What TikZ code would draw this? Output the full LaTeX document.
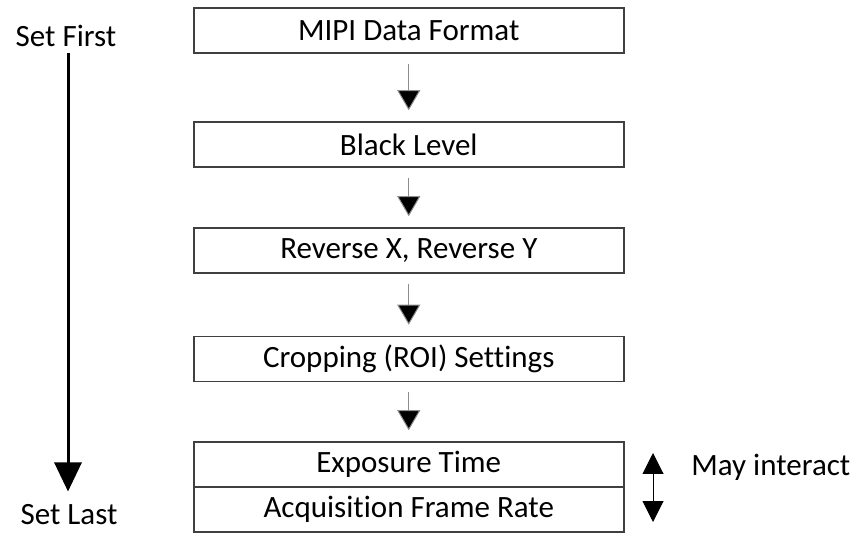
\documentclass[tikz,border=0pt]{standalone}
\usepackage{fontspec}
\setmainfont[Ligatures=NoCommon]{Carlito}
\usetikzlibrary{arrows.meta}

\tikzset{
    stepbox/.style={draw=black!75, line width=0.75pt, minimum width=215pt, minimum height=22.5pt, inner sep=0pt},
    flow/.style={draw=black!45, line width=0.5pt, -{Triangle[length=10pt,width=11.5pt,fill=black]}, shorten <=5pt, shorten >=5.5pt},
    lbl/.style={inner sep=0pt}
}

\begin{document}
\begin{tikzpicture}[x=0.5pt, y=-0.5pt, font=\fontsize{15.5}{18}\selectfont]
    \useasboundingbox (0,0) rectangle (861,533);

    % order of the settings
    \node[stepbox] (mipi)  at (408.75,30.5)  {MIPI Data Format};
    \node[stepbox] (black) at (408.75,144.5) {Black Level};
    \node[stepbox] (rev)   at (408.75,250.5) {Reverse X, Reverse Y};
    \node[stepbox] (crop)  at (408.75,359)   {Cropping (ROI) Settings};
    \node[stepbox] (expo)  at (408.75,464.5) {Exposure Time};
    \node[stepbox] (rate)  at (408.75,509.5) {Acquisition Frame Rate};

    \draw[flow] (mipi)  -- (black);
    \draw[flow] (black) -- (rev);
    \draw[flow] (rev)   -- (crop);
    \draw[flow] (crop)  -- (expo);

    % left side
    \node[lbl, anchor=base] (first) at (66,47)  {Set First};
    \node[lbl, anchor=base] (last)  at (69,524) {Set Last};
    \draw[line width=1.5pt, -{Triangle[length=14.5pt,width=13.5pt]}, shorten <=2.5pt, shorten >=6pt]
        (first.south -| 68,0) -- (last.north -| 68,0);

    % right side
    \coordinate (itop) at (653,453);
    \coordinate (ibot) at (653,522);
    \draw[line width=0.5pt, {Triangle[length=10.5pt,width=10.5pt]}-{Triangle[length=10.5pt,width=10.5pt]}] (itop) -- (ibot);
    \node[lbl, anchor=west] (inter) at (691,467) {May interact};
\end{tikzpicture}
\end{document}
